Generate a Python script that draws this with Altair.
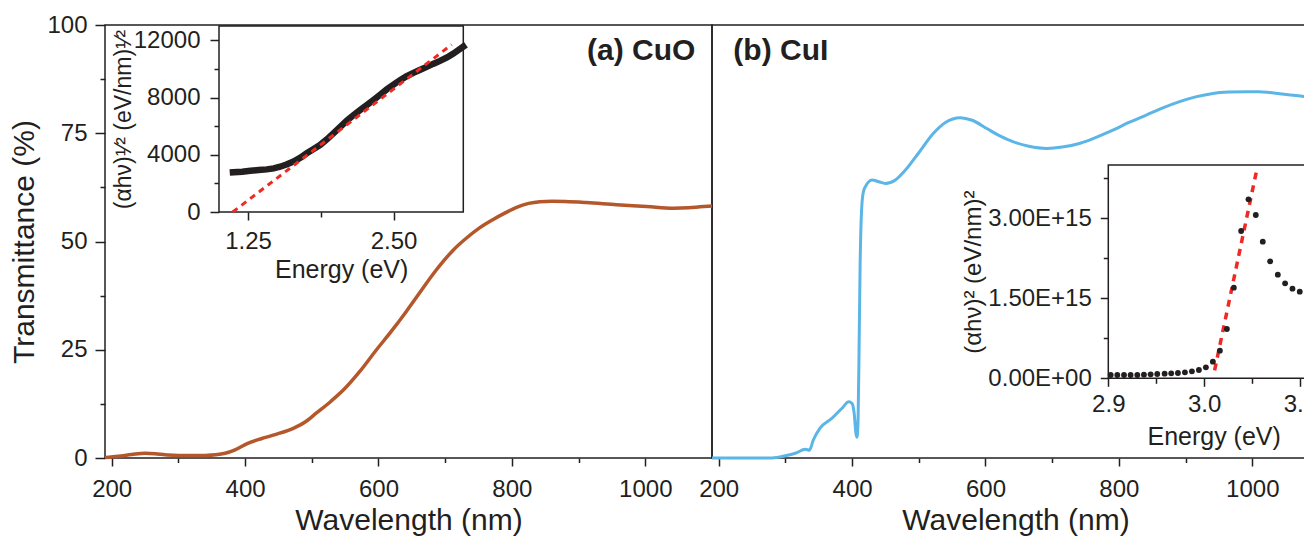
import altair as alt
import pandas as pd

FONT = "Liberation Sans"
INK = "#231f20"

# ---------------- data ----------------
# (a) CuO transmittance
cuo_wavelength = [190, 210, 230, 250, 265, 280, 300, 320, 340, 356, 370, 385, 404, 425, 445,
                  473, 490, 507, 528, 548, 572, 597, 620, 642, 662, 682, 697, 712, 732, 752, 772,
                  790, 807, 825, 842, 860, 880, 912, 957, 1002, 1042, 1065, 1082, 1100]
cuo_transmittance = [0.1, 0.4, 0.8, 1.1, 1.0, 0.75, 0.6, 0.55, 0.6, 0.75, 1.1, 1.9, 3.4, 4.5, 5.4,
                     6.9, 8.3, 10.4, 13.0, 15.8, 20.0, 25.0, 29.4, 33.9, 38.2, 42.5, 45.4, 48.0, 50.8, 53.2, 55.1,
                     56.6, 57.9, 58.8, 59.2, 59.3, 59.25, 59.0, 58.5, 58.1, 57.7, 57.8, 58.0, 58.2]

# (b) CuI transmittance
cui_wavelength = [190, 280, 300, 315, 330, 336, 342, 352, 370, 385, 395, 400, 403, 406, 407.5,
                  409, 410.5, 412, 414.5, 417, 420, 425, 430, 440, 450, 465, 480, 500, 522, 540,
                  562, 580, 602, 620, 642, 665, 692, 715, 742, 765, 791, 815, 841, 865, 891,
                  915, 941, 965, 991, 1010, 1026, 1041, 1065, 1089, 1100]
cui_transmittance = [0, 0, 0.5, 1.1, 2.0, 1.8, 4.2, 6.9, 9.2, 11.5, 13.0, 12.6, 10.5, 5.5, 4.8,
                     9.0, 25.0, 44.0, 58.0, 61.5, 62.7, 63.8, 64.2, 63.8, 63.4, 64.2, 66.5, 70.5, 75.0, 77.5,
                     78.6, 78.0, 76.1, 74.5, 73.0, 72.0, 71.5, 71.8, 72.7, 74.0, 75.7, 77.5, 79.2, 80.8, 82.3,
                     83.4, 84.2, 84.5, 84.6, 84.6, 84.4, 84.1, 83.7, 83.3, 83.1]

# inset (a): (alpha h nu)^1/2 vs energy
cuo_energy = [1.12, 1.2, 1.27, 1.34, 1.41, 1.47, 1.525, 1.58, 1.64, 1.7, 1.754, 1.81, 1.868, 1.925,
              1.983, 2.04, 2.098, 2.155, 2.212, 2.27, 2.327, 2.385, 2.442, 2.5, 2.556, 2.61, 2.671,
              2.73, 2.786, 2.84, 2.9, 2.96, 3.015, 3.06, 3.1]
cuo_ahv = [2771, 2820, 2884, 2930, 2978, 3050, 3164, 3320, 3525, 3800, 4107, 4390, 4677, 5060,
           5493, 5930, 6374, 6760, 7121, 7470, 7819, 8190, 8565, 8900, 9215, 9480, 9726,
           9940, 10145, 10350, 10563, 10800, 11075, 11330, 11560]
cuo_fit_energy = [1.118, 3.0]
cuo_fit_value = [0, 11700]

# inset (b): (alpha h nu)^2 vs energy
cui_energy = [2.9025, 2.9094, 2.9164, 2.9233, 2.9303, 2.9372, 2.9442, 2.9511, 2.9588, 2.9657,
              2.9727, 2.98, 2.9873, 2.9946, 3.0019, 3.0092, 3.0165, 3.0238, 3.0311, 3.0387,
              3.0464, 3.054, 3.0613, 3.069, 3.077, 3.0846, 3.0923, 3.0999, 3.1075]
cui_ahv2 = [0.062e15, 0.062e15, 0.062e15, 0.062e15, 0.062e15, 0.068e15, 0.075e15, 0.081e15, 0.087e15, 0.093e15,
            0.100e15, 0.112e15, 0.131e15, 0.156e15, 0.206e15, 0.312e15, 0.518e15, 0.924e15, 1.699e15, 2.762e15,
            3.356e15, 3.062e15, 2.562e15, 2.193e15, 1.943e15, 1.781e15, 1.681e15, 1.624e15, 1.593e15]
cui_fit_energy = [3.011, 3.0555]
cui_fit_value = [0.15e15, 3.95e15]

# scale domains and tick values
wl_domain = [190, 1100]
t_domain = [0, 100]
wl_major = [200, 400, 600, 800, 1000]
wl_minor = [300, 500, 700, 900]
t_major = [0, 25, 50, 75, 100]
t_minor = [12.5, 37.5, 62.5, 87.5]
ea_domain = [1.0, 3.1]
va_domain = [0, 13000]
ea_major = [1.25, 2.5]
ea_minor = [1.875]
va_major = [0, 4000, 8000, 12000]
va_minor = [2000, 6000, 10000]
eb_domain = [2.9, 3.12]
vb_domain = [0, 4.0e15]
eb_major = [2.9, 3.0, 3.1]
eb_minor = [2.95, 3.05]
vb_major = [0, 1.5e15, 3.0e15]
vb_minor = [0.75e15, 2.25e15, 3.75e15]

panel_labels = ["(a) CuO", "(b) CuI"]
panel_label_wl = [1075, 222]
panel_label_t = [92, 92]

# ---------------- layout (pixels inside the plot area) ----------------
W_VIEW = 1199     # visible part (cut off on the right like the reference)
W = 1214          # both panels, full extent
H = 433
PW = 607          # one panel
A_X = [114, 358.3]
A_Y = [187, 1]
B_X = [1003.3, 1214]
B_Y = [353.3, 140]


def sc(domain, rng):
    return alt.Scale(domain=domain, range=rng, nice=False, zero=False)


cuo_df = pd.DataFrame({"wl": cuo_wavelength, "T": cuo_transmittance})
cui_df = pd.DataFrame({"wl": cui_wavelength, "T": cui_transmittance})
ia_df = pd.DataFrame({"E": cuo_energy, "v": cuo_ahv})
ia_fit = pd.DataFrame({"E": cuo_fit_energy, "v": cuo_fit_value})
ib_df = pd.DataFrame({"E": cui_energy, "v": cui_ahv2})
ib_fit = pd.DataFrame({"E": cui_fit_energy, "v": cui_fit_value})
lab_a = pd.DataFrame({"wl": [panel_label_wl[0]], "T": [panel_label_t[0]], "label": [panel_labels[0]]})
lab_b = pd.DataFrame({"wl": [panel_label_wl[1]], "T": [panel_label_t[1]], "label": [panel_labels[1]]})
frame_main = pd.DataFrame({"x0": [wl_domain[0]], "x1": [wl_domain[1]], "y0": [t_domain[0]], "y1": [t_domain[1]]})
box_a = pd.DataFrame({"e0": [ea_domain[0]], "e1": [ea_domain[1]], "v0": [va_domain[0]], "v1": [va_domain[1]]})
box_b = pd.DataFrame({"e0": [eb_domain[0]], "e1": [eb_domain[1]], "v0": [vb_domain[0]], "v1": [vb_domain[1]]})

# ---- frames of the two main panels ----
l_frame_a = alt.Chart(frame_main).mark_rect(fillOpacity=0, stroke=INK, strokeWidth=1.5).encode(
    x=alt.X("x0:Q", scale=sc(wl_domain, [0, PW]),
            axis=alt.Axis(orient="bottom", values=wl_minor, labels=False, domain=False, tickSize=4.5, title=None)),
    x2="x1:Q",
    y=alt.Y("y0:Q", scale=sc(t_domain, [H, 0]),
            axis=alt.Axis(orient="left", values=t_minor, labels=False, domain=False, tickSize=5, title=None)),
    y2="y1:Q",
)
l_frame_b = alt.Chart(frame_main).mark_rect(fillOpacity=0, stroke=INK, strokeWidth=1.5).encode(
    x=alt.X("x0:Q", scale=sc(wl_domain, [PW, W]),
            axis=alt.Axis(orient="bottom", values=wl_minor, labels=False, domain=False, tickSize=4.5, title=None)),
    x2="x1:Q",
    y=alt.Y("y0:Q", scale=sc(t_domain, [H, 0]), axis=None),
    y2="y1:Q",
)

# ---- panel (a) ----
l_cuo = alt.Chart(cuo_df).mark_line(color="#b4572a", strokeWidth=3.5, interpolate="monotone").encode(
    x=alt.X("wl:Q", scale=sc(wl_domain, [0, PW]),
            axis=alt.Axis(orient="bottom", values=wl_major, format="d", domain=False, tickSize=8,
                          labelPadding=11, title="Wavelength (nm)", titlePadding=4)),
    y=alt.Y("T:Q", scale=sc(t_domain, [H, 0]),
            axis=alt.Axis(orient="left", values=t_major, format="d", domain=False, tickSize=10,
                          labelPadding=8, title="Transmittance (%)", titlePadding=7)),
)
l_lab_a = alt.Chart(lab_a).mark_text(align="right", baseline="alphabetic", font=FONT, fontSize=30,
                                     fontWeight="bold", color=INK).encode(
    x=alt.X("wl:Q", scale=sc(wl_domain, [0, PW]), axis=None),
    y=alt.Y("T:Q", scale=sc(t_domain, [H, 0]), axis=None),
    text="label:N",
)

# ---- panel (b) ----
l_cui = alt.Chart(cui_df).mark_line(color="#5bb5e6", strokeWidth=3, interpolate="monotone").encode(
    x=alt.X("wl:Q", scale=sc(wl_domain, [PW, W]),
            axis=alt.Axis(orient="bottom", values=wl_major, format="d", domain=False, tickSize=8,
                          labelPadding=11, title="Wavelength (nm)", titlePadding=4)),
    y=alt.Y("T:Q", scale=sc(t_domain, [H, 0]), axis=None),
)
l_lab_b = alt.Chart(lab_b).mark_text(align="left", baseline="alphabetic", font=FONT, fontSize=30,
                                     fontWeight="bold", color=INK).encode(
    x=alt.X("wl:Q", scale=sc(wl_domain, [PW, W]), axis=None),
    y=alt.Y("T:Q", scale=sc(t_domain, [H, 0]), axis=None),
    text="label:N",
)

# ---- inset (a) ----
l_box_a = alt.Chart(box_a).mark_rect(fill="white", stroke=INK, strokeWidth=1.5).encode(
    x=alt.X("e0:Q", scale=sc(ea_domain, A_X), axis=None), x2="e1:Q",
    y=alt.Y("v0:Q", scale=sc(va_domain, A_Y), axis=None), y2="v1:Q",
)
l_ia = alt.Chart(ia_df).mark_line(color=INK, strokeWidth=6.5, strokeCap="square").encode(
    x=alt.X("E:Q", scale=sc(ea_domain, A_X),
            axis=alt.Axis(orient="bottom", offset=A_Y[0] - H, values=ea_major, format=".2f", domain=False,
                          tickSize=8, labelPadding=9, title="Energy (eV)", titleFontSize=25, titlePadding=4)),
    y=alt.Y("v:Q", scale=sc(va_domain, A_Y),
            axis=alt.Axis(orient="left", offset=-A_X[0], values=va_major, format="d", domain=False,
                          tickSize=9, labelPadding=10, title="(αhν)¹⁄² (eV/nm)¹⁄²", titleFontSize=23,
                          titlePadding=-2)),
)
l_ia_fit = alt.Chart(ia_fit).mark_line(color="#ee2a24", strokeWidth=3, strokeDash=[6, 5]).encode(
    x=alt.X("E:Q", scale=sc(ea_domain, A_X),
            axis=alt.Axis(orient="bottom", offset=A_Y[0] - H, values=ea_minor, labels=False, domain=False,
                          tickSize=5, title=None)),
    y=alt.Y("v:Q", scale=sc(va_domain, A_Y),
            axis=alt.Axis(orient="left", offset=-A_X[0], values=va_minor, labels=False, domain=False,
                          tickSize=5, title=None)),
)

# ---- inset (b) ----
l_box_b = alt.Chart(box_b).mark_rect(fill="white", stroke=INK, strokeWidth=1.5).encode(
    x=alt.X("e0:Q", scale=sc(eb_domain, B_X), axis=None), x2="e1:Q",
    y=alt.Y("v0:Q", scale=sc(vb_domain, B_Y), axis=None), y2="v1:Q",
)
l_ib_fit = alt.Chart(ib_fit).mark_line(color="#ee2a24", strokeWidth=3.5, strokeDash=[7, 6]).encode(
    x=alt.X("E:Q", scale=sc(eb_domain, B_X),
            axis=alt.Axis(orient="bottom", offset=B_Y[0] - H, values=eb_minor, labels=False, domain=False,
                          tickSize=5, title=None)),
    y=alt.Y("v:Q", scale=sc(vb_domain, B_Y),
            axis=alt.Axis(orient="left", offset=-B_X[0], values=vb_minor, labels=False, domain=False,
                          tickSize=5, title=None)),
)
l_ib = alt.Chart(ib_df).mark_circle(color=INK, size=34, opacity=1).encode(
    x=alt.X("E:Q", scale=sc(eb_domain, B_X),
            axis=alt.Axis(orient="bottom", offset=B_Y[0] - H, values=eb_major, format=".1f", domain=False,
                          tickSize=8, labelPadding=6, title="Energy (eV)", titleFontSize=25, titlePadding=8)),
    y=alt.Y("v:Q", scale=sc(vb_domain, B_Y),
            axis=alt.Axis(orient="left", offset=-B_X[0], values=vb_major, domain=False, tickSize=8,
                          labelPadding=9,
                          labelExpr="datum.value == 0 ? '0.00E+00' : replace(format(datum.value, '.2e'), 'e', 'E')",
                          title="(αhν)² (eV/nm)²", titleFontSize=24, titlePadding=2)),
)

chart = alt.layer(
    l_frame_a, l_frame_b,
    l_cuo, l_lab_a, l_cui, l_lab_b,
    l_box_a, l_ia, l_ia_fit,
    l_box_b, l_ib_fit, l_ib,
).resolve_scale(
    x="independent", y="independent"
).properties(
    width=W_VIEW, height=H,
    padding={"left": 97, "top": 17, "right": 0, "bottom": 80},
    autosize=alt.AutoSizeParams(type="none"),
).configure_view(
    stroke=None
).configure_axis(
    grid=False, labelFont=FONT, titleFont=FONT, labelFontSize=24, titleFontSize=30,
    titleFontWeight="normal", labelColor=INK, titleColor=INK, tickColor=INK, domainColor=INK,
    tickWidth=1.5, domainWidth=1.5, labelFlush=False, labelOverlap=False,
)

chart.save("out.html", embed_options={"renderer": "svg", "actions": False})
